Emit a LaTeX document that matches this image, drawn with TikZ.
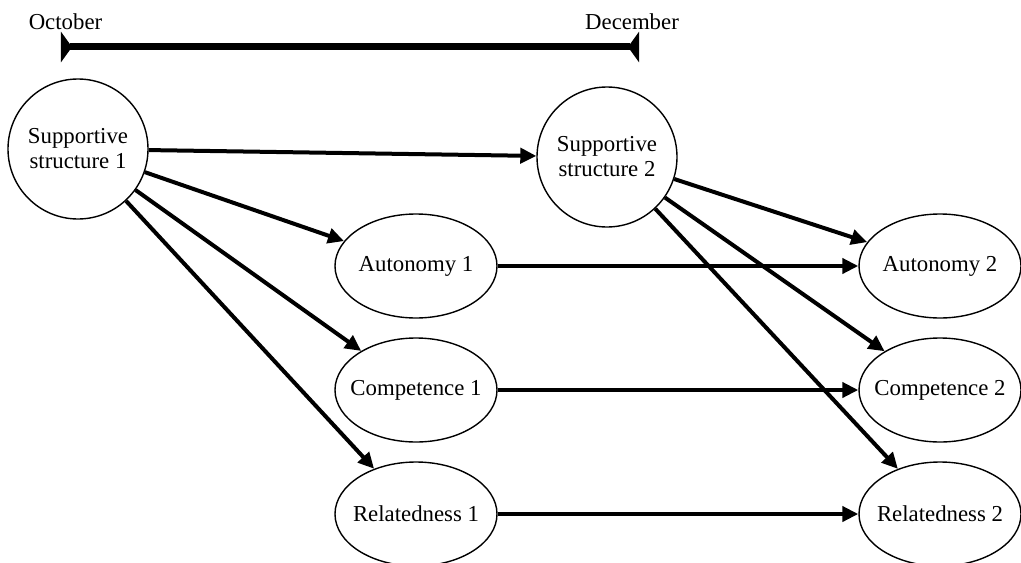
\documentclass[tikz,border=0pt]{standalone}
\usepackage{fontspec}
\setmainfont{Liberation Serif}
\usepackage{tikz}
\usetikzlibrary{shapes.geometric,arrows.meta,positioning}
\tikzset{
  font={\fontsize{11.4pt}{12.5pt}\selectfont}
}
\tikzstyle{line}=[draw, -{Triangle[length=8pt,width=7.5pt]}, line width=2pt]
\tikzstyle{span}=[draw, {Triangle[reversed,length=5.5pt,width=15pt]}-{Triangle[reversed,length=5.5pt,width=15pt]}, line width=3.5pt]
\tikzstyle{block}=[circle,draw,line width=0.7pt,minimum size=70pt,inner sep=0pt,align=center]
\tikzstyle{oval}=[ellipse,draw,line width=0.7pt,minimum width=81pt,minimum height=52pt,inner xsep=-6pt,inner ysep=0pt]

\begin{document}
\begin{tikzpicture}[node distance=62pt, on grid, auto]
\useasboundingbox (-39pt,74.5pt) rectangle (471.5pt,-206.5pt);

\node[block] at (0,0) (ss_oct) {Supportive\\structure 1};
\node[block,below right=4pt and 264.5pt of ss_oct] (ss_dec) {Supportive\\structure 2};

\node[oval,below right=58.5pt and 169pt of ss_oct] (aut_oct) {Autonomy 1};
\node[oval,below=of aut_oct] (com_oct) {Competence 1};
\node[oval,below=of com_oct] (rel_oct) {Relatedness 1};

\node[oval,right=262pt of aut_oct] (aut_dec) {Autonomy 2};
\node[oval,right=262pt of com_oct] (com_dec) {Competence 2};
\node[oval,right=262pt of rel_oct] (rel_dec) {Relatedness 2};

%%% Timeline

\coordinate[above left=51pt and 8.5pt of ss_oct] (t_oct);
\coordinate[right=289pt of t_oct] (t_dec);
\node at ([shift={(2.25pt,12.5pt)}]t_oct) (oct) {October};
\node at ([shift={(-3.5pt,12.5pt)}]t_dec) (dec) {December};
\draw[span] (t_oct) -- (t_dec);

\draw[line] (ss_oct) -- (ss_dec);
\draw[line] (ss_oct) -- (aut_oct);
\draw[line] (ss_oct) -- (com_oct);
\draw[line] (ss_oct) -- (rel_oct);

\draw[line] (ss_dec) -- (aut_dec);
\draw[line] (ss_dec) -- (com_dec);
\draw[line] (ss_dec) -- (rel_dec);

\draw[line] (aut_oct) -- (aut_dec);
\draw[line] (com_oct) -- (com_dec);
\draw[line] (rel_oct) -- (rel_dec);

\end{tikzpicture}
\end{document}
